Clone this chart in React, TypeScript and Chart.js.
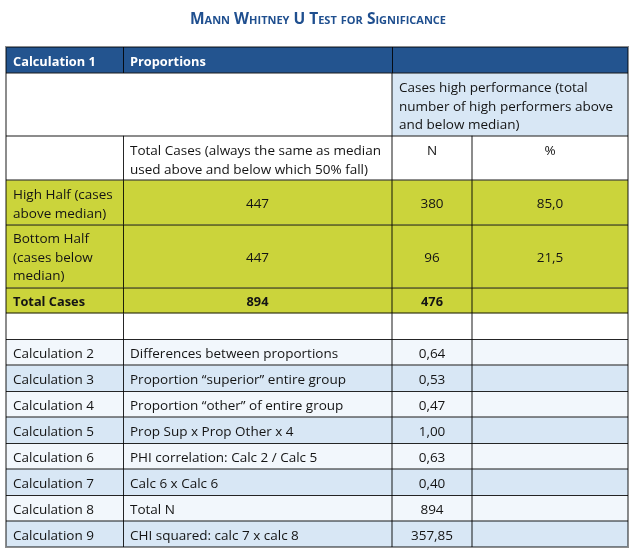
import React, { useEffect, useRef } from "react";
import { Chart, registerables } from "chart.js";

Chart.register(...registerables);

// ---------- content ----------
const title = "Mann Whitney U Test for Significance";
const headerLabels = ["Calculation 1", "Proportions"];
const groupHeader = "Cases high performance (total\nnumber of high performers above\nand below median)";
const subHeaders = [
  "Total Cases (always the same as median\nused above and below which 50% fall)",
  "N",
  "%",
];
const groupRows = ["High Half (cases\nabove median)", "Bottom Half\n(cases below\nmedian)", "Total Cases"];
const totalCases = [447, 447, 894];
const highN = [380, 96, 476];
const highPct: (number | null)[] = [85.0, 21.5, null];
const calcLabels = [
  "Calculation 2",
  "Calculation 3",
  "Calculation 4",
  "Calculation 5",
  "Calculation 6",
  "Calculation 7",
  "Calculation 8",
  "Calculation 9",
];
const calcDescriptions = [
  "Differences between proportions",
  "Proportion \u201Csuperior\u201D entire group",
  "Proportion \u201Cother\u201D of entire group",
  "Prop Sup x Prop Other x 4",
  "PHI correlation: Calc 2 / Calc 5",
  "Calc 6 x Calc 6",
  "Total N",
  "CHI squared: calc 7 x calc 8",
];
const calcValues = [0.64, 0.53, 0.47, 1.0, 0.63, 0.4, 894, 357.85];

// ---------- layout / style ----------
const COL_EDGES = [0, 117, 386, 466, 622];
const LINE = 18.5;
const PAD = 7.5;
const FONT = "'Open Sans', 'Noto Sans', sans-serif";
const FONT_SIZE = 13.5;
const BOLD_SIZE = 12.8;
const HEADER_BLUE = "#23548f";
const LIGHT_BLUE = "#d8e7f5";
const PALE = "#f2f7fc";
const YELLOW = "#cbd43b";
const WHITE = "#ffffff";
const TEXT = "#141414";
const GRAY_LINE = "rgba(0,0,0,0.45)";
const DARK_LINE = "rgba(0,0,0,0.85)";

const fmt = (v: number | null, d: number) =>
  v === null ? "" : v.toFixed(d).replace(".", ",");
const fmtCalc = (v: number) => (v >= 100 && Number.isInteger(v) ? String(v) : fmt(v, 2));

type Cell = {
  c0: number;
  c1: number;
  text: string;
  align?: "left" | "center";
  valign?: "top" | "middle";
  bold?: boolean;
  fill: string;
  color?: string;
};
type Row = { cells: Cell[]; kind: "header" | "plain" | "dark" };

const rows: Row[] = [];
rows.push({
  kind: "header",
  cells: [
    { c0: 0, c1: 1, text: headerLabels[0], bold: true, fill: HEADER_BLUE, color: WHITE },
    { c0: 1, c1: 2, text: headerLabels[1], bold: true, fill: HEADER_BLUE, color: WHITE },
    { c0: 2, c1: 4, text: "", fill: HEADER_BLUE },
  ],
});
rows.push({
  kind: "plain",
  cells: [
    { c0: 0, c1: 2, text: "", fill: WHITE },
    { c0: 2, c1: 4, text: groupHeader, valign: "top", fill: LIGHT_BLUE },
  ],
});
rows.push({
  kind: "plain",
  cells: [
    { c0: 0, c1: 1, text: "", fill: WHITE },
    { c0: 1, c1: 2, text: subHeaders[0], valign: "top", fill: WHITE },
    { c0: 2, c1: 3, text: subHeaders[1], align: "center", valign: "top", fill: WHITE },
    { c0: 3, c1: 4, text: subHeaders[2], align: "center", valign: "top", fill: WHITE },
  ],
});
groupRows.forEach((label, i) => {
  const bold = i === groupRows.length - 1;
  rows.push({
    kind: "plain",
    cells: [
      { c0: 0, c1: 1, text: label, bold, fill: YELLOW },
      { c0: 1, c1: 2, text: fmt(totalCases[i], 0), align: "center", bold, fill: YELLOW },
      { c0: 2, c1: 3, text: fmt(highN[i], 0), align: "center", bold, fill: YELLOW },
      { c0: 3, c1: 4, text: fmt(highPct[i], 1), align: "center", bold, fill: YELLOW },
    ],
  });
});
rows.push({
  kind: "plain",
  cells: [0, 1, 2, 3].map((c) => ({ c0: c, c1: c + 1, text: "", fill: WHITE })),
});
calcLabels.forEach((label, i) => {
  const fill = i % 2 === 0 ? PALE : LIGHT_BLUE;
  rows.push({
    kind: i % 2 === 0 ? "dark" : "plain",
    cells: [
      { c0: 0, c1: 1, text: label, fill },
      { c0: 1, c1: 2, text: calcDescriptions[i], fill },
      { c0: 2, c1: 3, text: fmtCalc(calcValues[i]), align: "center", fill },
      { c0: 3, c1: 4, text: "", fill },
    ],
  });
});

const rowLines = rows.map((r) => Math.max(1, ...r.cells.map((c) => c.text.split("\n").length)));
const rowEdges: number[] = [0];
rowLines.forEach((n) => rowEdges.push(rowEdges[rowEdges.length - 1] + PAD + n * LINE));
const TOTAL = rowEdges[rowEdges.length - 1];

const tablePlugin = {
  id: "tablePlugin",
  afterDraw(chart: any) {
    const ctx: CanvasRenderingContext2D = chart.ctx;
    const xs = chart.scales.x;
    const ys = chart.scales.y;
    const X = (v: number) => xs.getPixelForValue(v);
    const Y = (v: number) => ys.getPixelForValue(v);
    ctx.save();

    // fills
    rows.forEach((row, r) => {
      const t = Y(rowEdges[r]);
      const b = Y(rowEdges[r + 1]);
      row.cells.forEach((c) => {
        ctx.fillStyle = c.fill;
        const l = X(COL_EDGES[c.c0]);
        const rr = X(COL_EDGES[c.c1]);
        ctx.fillRect(l, t, rr - l, b - t);
      });
    });

    // horizontal lines
    const left = X(COL_EDGES[0]);
    const right = X(COL_EDGES[COL_EDGES.length - 1]);
    rows.forEach((row, r) => {
      if (r === 0) return;
      const y = Y(rowEdges[r]);
      ctx.beginPath();
      if (row.kind === "dark") {
        ctx.strokeStyle = DARK_LINE;
        ctx.lineWidth = 1;
        ctx.moveTo(left, Math.round(y) + 0.5);
        ctx.lineTo(right, Math.round(y) + 0.5);
      } else {
        ctx.strokeStyle = GRAY_LINE;
        ctx.lineWidth = 2;
        ctx.moveTo(left, Math.round(y));
        ctx.lineTo(right, Math.round(y));
      }
      ctx.stroke();
    });

    // vertical lines
    rows.forEach((row, r) => {
      const t = Y(rowEdges[r]);
      const b = Y(rowEdges[r + 1]);
      row.cells.forEach((c) => {
        if (c.c0 === 0) return;
        const x = X(COL_EDGES[c.c0]);
        ctx.beginPath();
        if (row.kind === "header" || c.c0 === 1) {
          ctx.strokeStyle = DARK_LINE;
          ctx.lineWidth = 1;
          ctx.moveTo(Math.round(x) + 0.5, t);
          ctx.lineTo(Math.round(x) + 0.5, b);
        } else {
          ctx.strokeStyle = GRAY_LINE;
          ctx.lineWidth = 2;
          ctx.moveTo(Math.round(x), t);
          ctx.lineTo(Math.round(x), b);
        }
        ctx.stroke();
      });
    });

    // outer border
    const top = Y(0);
    const bottom = Y(TOTAL);
    ctx.strokeStyle = GRAY_LINE;
    ctx.lineWidth = 2;
    ctx.strokeRect(Math.round(left), Math.round(top), Math.round(right - left), Math.round(bottom - top));

    // text
    ctx.textBaseline = "middle";
    rows.forEach((row, r) => {
      const t = Y(rowEdges[r]);
      const b = Y(rowEdges[r + 1]);
      row.cells.forEach((c) => {
        if (!c.text) return;
        const lines = c.text.split("\n");
        ctx.font = c.bold ? `bold ${BOLD_SIZE}px ${FONT}` : `${FONT_SIZE}px ${FONT}`;
        ctx.fillStyle = c.color || TEXT;
        const l = X(COL_EDGES[c.c0]);
        const rr = X(COL_EDGES[c.c1]);
        let x = l + 7;
        if (c.align === "center") {
          ctx.textAlign = "center";
          x = (l + rr) / 2;
        } else {
          ctx.textAlign = "left";
        }
        let y0 = t + 13.5;
        if (c.valign !== "top") y0 = (t + b) / 2 - ((lines.length - 1) * LINE) / 2;
        lines.forEach((ln, k) => ctx.fillText(ln, x, y0 + k * LINE + 2));
      });
    });

    // title
    ctx.font = `small-caps bold 15.5px ${FONT}`;
    try {
      (ctx as any).fontVariantCaps = "small-caps";
    } catch (e) {}
    ctx.fillStyle = "#1f4f8f";
    ctx.textAlign = "center";
    ctx.textBaseline = "alphabetic";
    ctx.fillText(title, chart.width / 2, 23.5);
    ctx.restore();
  },
};

export default function App() {
  const ref = useRef<HTMLCanvasElement>(null);
  useEffect(() => {
    if (!ref.current) return;
    const chart = new Chart(ref.current, {
      type: "scatter",
      data: { datasets: [{ data: [] }] },
      options: {
        responsive: false,
        animation: false,
        events: [],
        plugins: {
          legend: { display: false },
          tooltip: { enabled: false },
          title: { display: false },
        },
        layout: { padding: { left: 6, right: 8, top: 47, bottom: 11 } },
        scales: {
          x: { type: "linear", min: 0, max: COL_EDGES[COL_EDGES.length - 1], display: false },
          y: { type: "linear", min: 0, max: TOTAL, reverse: true, display: false },
        },
      },
      plugins: [tablePlugin],
    } as any);
    return () => chart.destroy();
  }, []);
  return (
    <div style={{ position: "absolute", left: 0, top: 0, width: 636, height: 558, background: "#fff" }}>
      <canvas ref={ref} width={636} height={558} style={{ display: "block" }} />
    </div>
  );
}
